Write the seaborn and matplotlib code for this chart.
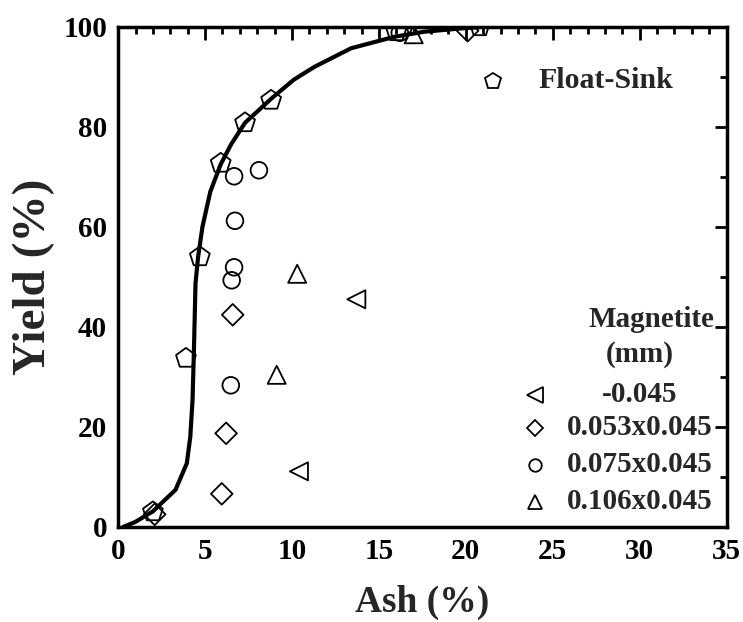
import matplotlib
matplotlib.use("Agg")
import matplotlib.pyplot as plt
import seaborn as sns
import pandas as pd
from matplotlib.ticker import MultipleLocator

sns.set_theme(style="white")
plt.rcParams['font.family'] = ['Liberation Serif', 'DejaVu Serif']
plt.rcParams['font.weight'] = 'bold'

# Float-sink data
fs_ash = [2.0, 3.9, 4.7, 5.9, 7.3, 8.8, 16.0, 20.8]
fs_yield = [3.0, 33.7, 54.0, 72.7, 80.8, 85.3, 99.0, 100.0]

# Fitted float-sink curve
curve_ash = [0.3, 1.0, 2.0, 3.3, 3.95, 4.15, 4.28, 4.36, 4.45, 4.6, 4.85, 5.3, 5.9, 6.5, 7.3, 8.8, 10.1, 11.3, 13.4, 15.9, 17.6, 19.5, 21.0]
curve_yield = [0.0, 1.0, 3.1, 7.4, 12.7, 18.0, 25.4, 35.4, 48.7, 54.0, 60.0, 67.0, 72.5, 76.5, 80.8, 85.6, 89.4, 92.0, 95.7, 98.0, 99.0, 99.6, 100.0]

# Magnetite size fractions
m045_ash = [13.7, 10.4]
m045_yield = [45.5, 11.1]
m053_ash = [2.1, 5.96, 6.21, 6.59, 20.1]
m053_yield = [2.5, 6.6, 18.7, 42.4, 99.2]
m075_ash = [6.48, 6.53, 6.67, 6.72, 6.67, 8.1, 16.2]
m075_yield = [28.3, 49.3, 51.9, 61.2, 70.1, 71.3, 98.8]
m106_ash = [9.12, 10.3, 17.0]
m106_yield = [30.4, 50.6, 98.5]

legend_labels = ["-0.045", "0.053x0.045", "0.075x0.045", "0.106x0.045"]

fig = plt.figure(figsize=(7.43, 6.22), dpi=100)
ax = fig.add_axes([0.159, 0.153, 0.819, 0.804])

sns.lineplot(x=curve_ash, y=curve_yield, sort=False, color='black', lw=3, ax=ax, zorder=2)

series = [
    (fs_ash, fs_yield, 'p', 15),
    (m045_ash, m045_yield, '<', 13),
    (m053_ash, m053_yield, 'D', 11),
    (m075_ash, m075_yield, 'o', 12),
    (m106_ash, m106_yield, '^', 13),
]
for xs, ys, mk, ms in series:
    df = pd.DataFrame({'x': xs, 'y': ys})
    sns.scatterplot(data=df, x='x', y='y', marker=mk, s=ms**2, facecolor='none',
                    edgecolor='black', linewidth=1.3, ax=ax, zorder=3, legend=False)

ax.set_xlim(0, 35)
ax.set_ylim(0, 100)
ax.xaxis.set_major_locator(MultipleLocator(5))
ax.xaxis.set_minor_locator(MultipleLocator(1))
ax.yaxis.set_major_locator(MultipleLocator(20))
ax.yaxis.set_minor_locator(MultipleLocator(10))
ax.tick_params(which='both', direction='in', top=True, right=True, colors='black',
               labelsize=21, width=2, pad=8)
ax.tick_params(which='major', length=9)
ax.tick_params(which='minor', length=5)
for lab in ax.get_xticklabels() + ax.get_yticklabels():
    lab.set_fontweight('bold')
for sp in ax.spines.values():
    sp.set_color('black')
    sp.set_linewidth(2.5)

ax.set_xlabel('Ash (%)', fontsize=27, fontweight='bold', labelpad=14)
ax.set_ylabel('Yield (%)', fontsize=34, fontweight='bold', labelpad=6)

# Legend (drawn as text)
tr = ax.transAxes
ax.plot([0.616], [0.892], marker='p', ms=12, mfc='none', mec='black', mew=1.3,
        transform=tr, clip_on=False)
ax.text(0.690, 0.892, 'Float-Sink', transform=tr, fontsize=21.5, fontweight='bold',
        ha='left', va='center')

ax.text(0.876, 0.414, 'Magnetite', transform=tr, fontsize=21, fontweight='bold',
        ha='center', va='center')
ax.text(0.857, 0.344, '(mm)', transform=tr, fontsize=21, fontweight='bold',
        ha='center', va='center')
leg_markers = ['<', 'D', 'o', '^']
leg_ms = [11, 8, 9, 10]
leg_y = [0.264, 0.198, 0.124, 0.050]
for lab, mk, ms, yy in zip(legend_labels, leg_markers, leg_ms, leg_y):
    ax.plot([0.685], [yy], marker=mk, ms=ms, mfc='none', mec='black', mew=1.3,
            transform=tr, clip_on=False)
    ax.text(0.857, yy, lab, transform=tr, fontsize=21, fontweight='bold',
            ha='center', va='center')

fig.savefig('out.png', dpi=100)
